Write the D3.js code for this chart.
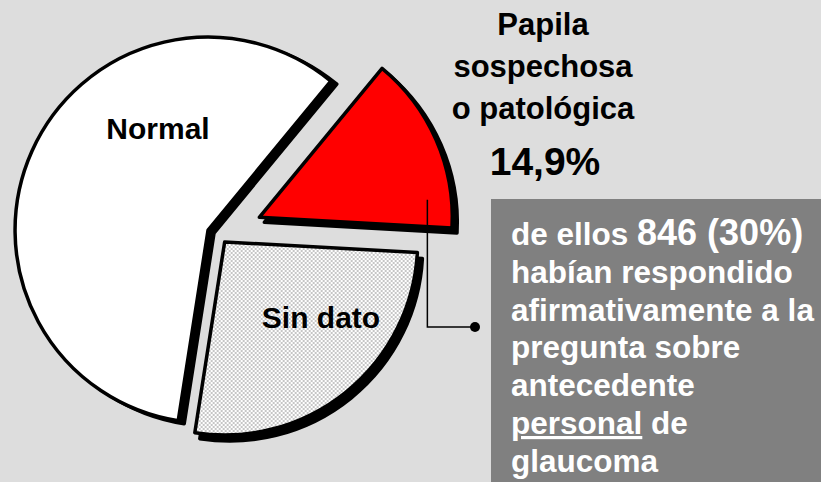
<!DOCTYPE html>
<html>
<head>
<meta charset="utf-8">
<script src="https://cdn.jsdelivr.net/npm/d3@7"></script>
<style>
  html, body { margin: 0; padding: 0; background: #dddddd; }
  svg { display: block; font-family: "Liberation Sans", Arial, sans-serif; font-weight: bold; }
</style>
</head>
<body>
<svg id="chart" width="821" height="482"></svg>
<script>
// data
const categories = ["Papila sospechosa o patológica", "Sin dato", "Normal"];
const shares = [14.9, 26.6, 58.5];
const sliceLabels = ["", "Sin dato", "Normal"];
const titleLines = ["Papila", "sospechosa", "o patológica"];
const noteCount = 846;
const notePct = 30;
const noteLines = [
    "habían respondido",
    "afirmativamente a la",
    "pregunta sobre",
    "antecedente"
];

const svg = d3.select("svg#chart");
const width = +svg.attr("width");
const height = +svg.attr("height");

const rad = deg => deg * Math.PI / 180;
const polar = (a, r) => [Math.sin(a) * r, -Math.cos(a) * r];
const pct = v => d3.format(".1f")(v).replace(".", ",") + "%";

// pie layout
const cx = 219, cy = 235, radius = 193;
const start = rad(39.5);
const explode = {"Papila sospechosa o patológica": 44, "Sin dato": 9, "Normal": 12};
const shadow = {"Papila sospechosa o patológica": [5, 5], "Sin dato": [5, 6], "Normal": [6, 3]};

const color = d3.scaleOrdinal()
    .domain(categories)
    .range(["#ff0000", "url(#checker)", "#ffffff"]);

// checker fill for "Sin dato"
const defs = svg.append("defs");
const pat = defs.append("pattern")
    .attr("id", "checker")
    .attr("width", 4).attr("height", 4)
    .attr("patternUnits", "userSpaceOnUse");
pat.append("rect").attr("width", 4).attr("height", 4).attr("fill", "#ffffff");
pat.append("rect").attr("width", 2).attr("height", 2).attr("fill", "#c6c6c6");
pat.append("rect").attr("x", 2).attr("y", 2).attr("width", 2).attr("height", 2).attr("fill", "#c6c6c6");

const rows = categories.map((c, i) => ({cat: c, value: shares[i], label: sliceLabels[i]}));

const pie = d3.pie()
    .sort(null)
    .value(d => d.value)
    .startAngle(start)
    .endAngle(start + 2 * Math.PI);

const arc = d3.arc().innerRadius(0).outerRadius(radius);

const slices = pie(rows).map(d => {
    const mid = (d.startAngle + d.endAngle) / 2;
    const off = polar(mid, explode[d.data.cat]);
    d.x = cx + off[0];
    d.y = cy + off[1];
    return d;
});

// shadows first
svg.append("g")
    .selectAll("path")
    .data(slices)
    .enter().append("path")
    .attr("transform", d => `translate(${d.x + shadow[d.data.cat][0]},${d.y + shadow[d.data.cat][1]})`)
    .attr("d", arc)
    .attr("fill", "#000")
    .attr("stroke", "#000")
    .attr("stroke-width", 3.5)
    .attr("stroke-linejoin", "round");

svg.append("g")
    .selectAll("path")
    .data(slices)
    .enter().append("path")
    .attr("transform", d => `translate(${d.x},${d.y})`)
    .attr("d", arc)
    .attr("fill", d => color(d.data.cat))
    .attr("stroke", "#000")
    .attr("stroke-width", 3.5)
    .attr("stroke-linejoin", "round");

// labels inside slices
const labelPos = {"Normal": [158, 139], "Sin dato": [321, 328]};
svg.append("g")
    .selectAll("text")
    .data(slices.filter(d => d.data.label))
    .enter().append("text")
    .attr("x", d => labelPos[d.data.cat][0])
    .attr("y", d => labelPos[d.data.cat][1])
    .attr("text-anchor", "middle")
    .attr("font-size", 30)
    .attr("fill", "#000")
    .text(d => d.data.label);

// title of the highlighted slice
const title = svg.append("g").attr("text-anchor", "middle").attr("fill", "#000");
const titleY = [35, 77, 119];
titleLines.forEach((t, i) => {
    title.append("text")
        .attr("x", 543)
        .attr("y", titleY[i])
        .attr("font-size", 31)
        .text(t);
});
title.append("text")
    .attr("x", 545)
    .attr("y", 175)
    .attr("font-size", 39)
    .text(pct(shares[0]));

// note box
const boxX = 491, boxY = 199;
svg.append("rect")
    .attr("x", boxX).attr("y", boxY)
    .attr("width", width - boxX).attr("height", height - boxY)
    .attr("fill", "#808080");

// connector from the red slice to the box
const red = slices[0];
const anchor = polar(rad(84), 169);
const ax = red.x + anchor[0], ay = red.y + anchor[1];
const elbowY = 327, dotX = 475;
svg.append("path")
    .attr("d", d3.line()([[ax, ay], [ax, elbowY], [dotX, elbowY]]))
    .attr("fill", "none")
    .attr("stroke", "#000")
    .attr("stroke-width", 1.5);
svg.append("circle")
    .attr("cx", dotX).attr("cy", elbowY).attr("r", 5)
    .attr("fill", "#000");

const note = svg.append("g").attr("fill", "#fff").attr("font-size", 31.5);
const tx = 511, ty = 245, lh = 37.8;

const first = note.append("text").attr("x", tx).attr("y", ty);
first.append("tspan").text("de ellos ");
first.append("tspan").attr("font-size", 36).text(`${noteCount} (${notePct}%)`);

noteLines.forEach((t, i) => {
    note.append("text").attr("x", tx).attr("y", ty + lh * (i + 1)).text(t);
});

const sixth = note.append("text").attr("x", tx).attr("y", ty + lh * 5);
sixth.append("tspan").attr("text-decoration", "underline").text("personal");
sixth.append("tspan").text(" de");

note.append("text").attr("x", tx).attr("y", ty + lh * 6).text("glaucoma");
</script>
</body>
</html>
